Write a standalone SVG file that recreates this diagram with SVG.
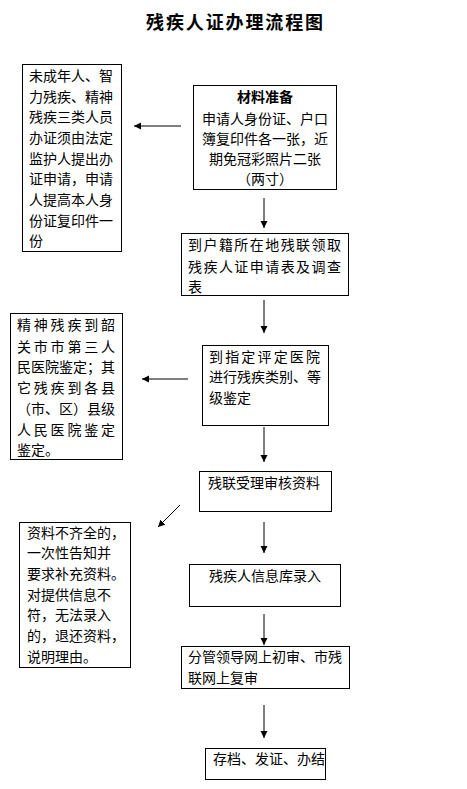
<svg xmlns="http://www.w3.org/2000/svg" width="467" height="789" viewBox="0 0 467 789">
<style>
.box{fill:#fff;stroke:#000;stroke-width:1}
.t{font-family:"Noto Sans CJK SC","Liberation Sans",sans-serif;font-size:14px;fill:#000}
.b{font-weight:bold}
.c{text-anchor:middle}
.title{font-family:"Noto Sans CJK SC","Liberation Sans",sans-serif;font-size:18px;font-weight:bold;fill:#000}
.ln{stroke:#000;stroke-width:1;fill:none;marker-end:url(#ah)}
</style>
<defs>
<marker id="ah" markerWidth="8" markerHeight="8" refX="7" refY="4" orient="auto" markerUnits="userSpaceOnUse">
<path d="M0,0.5 L7,4 L0,7.5 Z" fill="#000"/>
</marker>
</defs>
<rect width="467" height="789" fill="#fff"/>
<text class="title" x="146" y="29" textLength="177" lengthAdjust="spacing">残疾人证办理流程图</text>

<g id="connectors">
<line class="ln" x1="181" y1="126" x2="134" y2="126"/>
<line class="ln" x1="264" y1="198" x2="264" y2="228"/>
<line class="ln" x1="264" y1="300" x2="264" y2="333"/>
<line class="ln" x1="188" y1="379" x2="142" y2="379"/>
<line class="ln" x1="264" y1="427" x2="264" y2="462"/>
<line class="ln" x1="180" y1="505" x2="158" y2="527"/>
<line class="ln" x1="264" y1="522" x2="264" y2="553"/>
<line class="ln" x1="264" y1="614" x2="264" y2="645"/>
<line class="ln" x1="264" y1="705" x2="264" y2="738"/>
</g>

<g id="minor-note">
<rect class="box" x="22.5" y="64.5" width="99" height="187"/>
<text class="t" x="29" y="81">未成年人、智</text>
<text class="t" x="29" y="102">力残疾、精神</text>
<text class="t" x="29" y="122">残疾三类人员</text>
<text class="t" x="29" y="143">办证须由法定</text>
<text class="t" x="29" y="164">监护人提出办</text>
<text class="t" x="29" y="184">证申请，申请</text>
<text class="t" x="29" y="205">人提高本人身</text>
<text class="t" x="29" y="226">份证复印件一</text>
<text class="t" x="29" y="246">份</text>
</g>

<g id="materials">
<rect class="box" x="193.5" y="85.5" width="143" height="104"/>
<text class="t b c" x="265" y="102">材料准备</text>
<text class="t c" x="265" y="124">申请人身份证、户口</text>
<text class="t c" x="265" y="144">簿复印件各一张，近</text>
<text class="t c" x="265" y="164">期免冠彩照片二张</text>
<text class="t c" x="265" y="184">（两寸）</text>
</g>

<g id="get-form">
<rect class="box" x="181.5" y="233.5" width="167" height="62"/>
<text class="t" x="188" y="250" textLength="153" lengthAdjust="spacing">到户籍所在地残联领取</text>
<text class="t" x="188" y="272" textLength="153" lengthAdjust="spacing">残疾人证申请表及调查</text>
<text class="t" x="188" y="292">表</text>
</g>

<g id="hospital-note">
<rect class="box" x="10.5" y="313.5" width="112" height="146"/>
<text class="t" x="17" y="330" textLength="98" lengthAdjust="spacing">精神残疾到韶</text>
<text class="t" x="17" y="352" textLength="98" lengthAdjust="spacing">关市市第三人</text>
<text class="t" x="17" y="372" textLength="98" lengthAdjust="spacing">民医院鉴定；其</text>
<text class="t" x="17" y="393" textLength="98" lengthAdjust="spacing">它残疾到各县</text>
<text class="t" x="17" y="414" textLength="98" lengthAdjust="spacing">（市、区）县级</text>
<text class="t" x="17" y="435" textLength="98" lengthAdjust="spacing">人民医院鉴定</text>
<text class="t" x="17" y="455">鉴定。</text>
</g>

<g id="assessment">
<rect class="box" x="202.5" y="345.5" width="126" height="80"/>
<text class="t" x="209" y="362" textLength="111" lengthAdjust="spacing">到指定评定医院</text>
<text class="t" x="209" y="382" textLength="112" lengthAdjust="spacing">进行残疾类别、等</text>
<text class="t" x="209" y="403">级鉴定</text>
</g>

<g id="review">
<rect class="box" x="199.5" y="471.5" width="132" height="40"/>
<text class="t" x="208" y="488">残联受理审核资料</text>
</g>

<g id="incomplete-note">
<rect class="box" x="19.5" y="522.5" width="111" height="145"/>
<text class="t" x="27" y="538">资料不齐全的，</text>
<text class="t" x="27" y="558">一次性告知并</text>
<text class="t" x="27" y="579">要求补充资料。</text>
<text class="t" x="27" y="600">对提供信息不</text>
<text class="t" x="27" y="620">符，无法录入</text>
<text class="t" x="27" y="641">的，退还资料，</text>
<text class="t" x="27" y="662">说明理由。</text>
</g>

<g id="database">
<rect class="box" x="189.5" y="564.5" width="151" height="42"/>
<text class="t" x="209" y="581">残疾人信息库录入</text>
</g>

<g id="online-review">
<rect class="box" x="181.5" y="646.5" width="168" height="42"/>
<text class="t" x="188" y="662">分管领导网上初审、市残</text>
<text class="t" x="188" y="683">联网上复审</text>
</g>

<g id="archive">
<rect class="box" x="205.5" y="748.5" width="120" height="31"/>
<text class="t" x="213" y="764">存档、发证、办结</text>
</g>
</svg>
